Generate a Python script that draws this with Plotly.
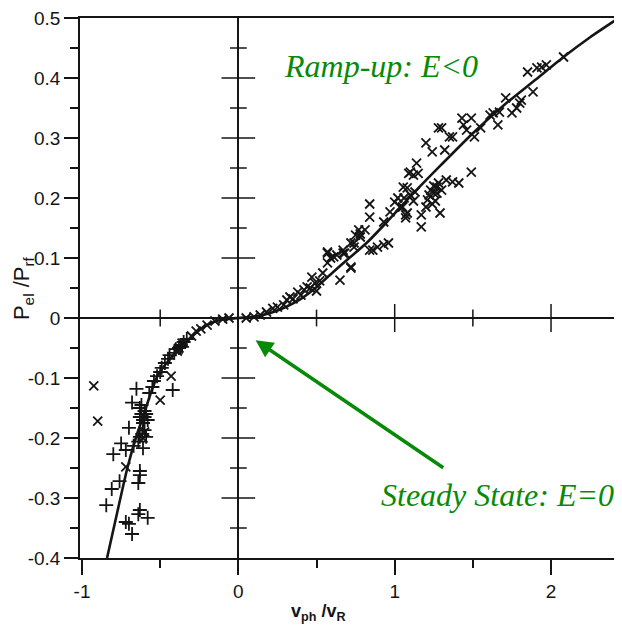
import plotly.graph_objects as go

# ---- data ----
curve_x = [-0.84, -0.78, -0.71, -0.65, -0.61, -0.56, -0.52, -0.45, -0.37, -0.30, -0.24, -0.17, -0.11,
           0.0, 0.10, 0.20, 0.30, 0.40, 0.48, 0.60, 0.70, 0.82, 0.95, 1.12, 1.30, 1.50, 1.70, 1.90, 2.08, 2.25, 2.45]
curve_y = [-0.40, -0.33, -0.25, -0.195, -0.165, -0.125, -0.098, -0.072, -0.050, -0.032, -0.018, -0.008, -0.003,
           0.0, 0.002, 0.008, 0.018, 0.032, 0.047, 0.075, 0.098, 0.125, 0.160, 0.208, 0.256, 0.308, 0.355, 0.397,
           0.435, 0.468, 0.503]

plus_x = [-0.652, -0.68, -0.70, -0.75, -0.80, -0.72, -0.76, -0.81, -0.845, -0.72, -0.70, -0.68, -0.63, -0.64,
          -0.58, -0.63, -0.63, -0.64, -0.61, -0.59, -0.63, -0.67, -0.64, -0.615, -0.60, -0.42,
          -0.63, -0.62, -0.60, -0.61, -0.59, -0.62, -0.60, -0.63, -0.58, -0.61,
          -0.57, -0.55, -0.54, -0.52, -0.50, -0.49, -0.47, -0.45, -0.44, -0.41, -0.40, -0.38, -0.37, -0.36, -0.35, -0.33]
plus_y = [-0.118, -0.141, -0.183, -0.209, -0.227, -0.220, -0.272, -0.285, -0.312, -0.340, -0.343, -0.360, -0.320, -0.327,
          -0.333, -0.255, -0.262, -0.275, -0.217, -0.198, -0.198, -0.213, -0.206, -0.193, -0.187, -0.120,
          -0.150, -0.160, -0.165, -0.170, -0.160, -0.145, -0.155, -0.165, -0.170, -0.175,
          -0.125, -0.115, -0.105, -0.097, -0.090, -0.083, -0.075, -0.068, -0.062, -0.058, -0.052, -0.050, -0.045, -0.048, -0.040, -0.035]

star_x = [-0.925, -0.90, -0.50, -0.43, -0.72, -0.38, -0.39, -0.36, -0.30, -0.27, -0.24, -0.20, -0.15, -0.10, -0.06,
          -0.60, -0.61,
          0.05, 0.10, 0.14, 0.18, 0.22, 0.25, 0.29, 0.31, 0.33, 0.35, 0.38, 0.40, 0.42, 0.44, 0.46, 0.47, 0.49, 0.50,
          0.52, 0.54, 0.57, 0.59, 0.57, 0.57, 0.61, 0.63, 0.65, 0.67, 0.67, 0.68, 0.72, 0.72, 0.72, 0.74, 0.74, 0.75,
          0.77, 0.78, 0.78, 0.81, 0.84, 0.84, 0.84, 0.86, 0.89, 0.93, 0.93, 0.96, 0.97, 1.00, 1.035, 1.05, 1.055,
          1.07, 1.07, 1.08, 1.08, 1.09, 1.10, 1.12, 1.14, 1.15, 1.17, 1.17, 1.20, 1.20, 1.21, 1.23, 1.24, 1.24,
          1.25, 1.27, 1.27, 1.28, 1.29, 1.30, 1.30, 1.32, 1.33, 1.35, 1.37, 1.37, 1.41, 1.43, 1.44, 1.46, 1.49,
          1.49, 1.51, 1.55, 1.61, 1.63, 1.66, 1.67, 1.71, 1.75, 1.78, 1.80, 1.81, 1.885, 1.85, 1.91, 1.94, 1.97, 2.08,
          1.06, 1.10, 1.12, 1.13, 1.02, 1.22, 1.26, 1.28, 1.25]
star_y = [-0.113, -0.172, -0.137, -0.097, -0.248, -0.050, -0.055, -0.042, -0.030, -0.022, -0.018, -0.012, -0.005, -0.002, 0.0,
          -0.190, -0.200,
          0.000, 0.002, 0.005, 0.010, 0.016, 0.018, 0.022, 0.030, 0.035, 0.032, 0.043, 0.038, 0.047, 0.052, 0.050, 0.068, 0.058, 0.045,
          0.062, 0.075, 0.092, 0.100, 0.108, 0.110, 0.102, 0.105, 0.063, 0.108, 0.113, 0.108, 0.083, 0.085, 0.125, 0.118, 0.125, 0.138,
          0.147, 0.135, 0.140, 0.147, 0.168, 0.190, 0.113, 0.113, 0.118, 0.122, 0.160, 0.125, 0.177, 0.193, 0.185, 0.185, 0.218,
          0.167, 0.172, 0.175, 0.217, 0.241, 0.243, 0.238, 0.258, 0.241, 0.152, 0.172, 0.185, 0.292, 0.197, 0.213, 0.190, 0.277,
          0.208, 0.218, 0.208, 0.317, 0.175, 0.213, 0.317, 0.280, 0.230, 0.302, 0.302, 0.227, 0.225, 0.333, 0.322, 0.313, 0.333,
          0.243, 0.302, 0.317, 0.338, 0.342, 0.322, 0.343, 0.367, 0.342, 0.350, 0.358, 0.363, 0.377, 0.410, 0.417, 0.418, 0.422, 0.435,
          0.200, 0.205, 0.195, 0.210, 0.200, 0.205, 0.195, 0.225, 0.220]

x_tickvals = [-1, 0, 1, 2]
x_ticktext = ["-1", "0", "1", "2"]
y_tickvals = [0.5, 0.4, 0.3, 0.2, 0.1, 0.0, -0.1, -0.2, -0.3, -0.4]
y_ticktext = ["0.5", "0.4", "0.3", "0.2", "0.1", "0", "-0.1", "-0.2", "-0.3", "-0.4"]

# ticks on the central cross axes
center_y_major = [-0.3, -0.2, -0.1, 0.1, 0.2, 0.3, 0.4]
center_y_minor = [-0.35, -0.25, -0.15, -0.05, 0.05, 0.15, 0.25, 0.35, 0.45]
center_x_major = [1, 2]
center_x_minor = [-0.5, 0.5, 1.5]

GREEN = "#078a07"
INK = "#151515"
SERIF = "Liberation Serif, Times New Roman, serif"

fig = go.Figure()

# cross-axis tick marks
fig.add_trace(go.Scatter(x=[0] * len(center_y_major), y=center_y_major, mode="markers",
                         marker=dict(symbol="line-ew", size=24, line=dict(width=1.5, color=INK)),
                         hoverinfo="skip", showlegend=False))
fig.add_trace(go.Scatter(x=[0] * len(center_y_minor), y=center_y_minor, mode="markers",
                         marker=dict(symbol="line-ew", size=12, line=dict(width=1.5, color=INK)),
                         hoverinfo="skip", showlegend=False))
fig.add_trace(go.Scatter(x=center_x_major, y=[0] * len(center_x_major), mode="markers",
                         marker=dict(symbol="line-ns", size=20, line=dict(width=1.5, color=INK)),
                         hoverinfo="skip", showlegend=False))
fig.add_trace(go.Scatter(x=center_x_minor, y=[0] * len(center_x_minor), mode="markers",
                         marker=dict(symbol="line-ns", size=12, line=dict(width=1.5, color=INK)),
                         hoverinfo="skip", showlegend=False))

# data points
fig.add_trace(go.Scatter(x=plus_x, y=plus_y, mode="markers",
                         marker=dict(symbol="cross-thin", size=10, line=dict(width=1.8, color=INK)),
                         showlegend=False))
fig.add_trace(go.Scatter(x=star_x, y=star_y, mode="markers",
                         marker=dict(symbol="x-thin", size=9, line=dict(width=1.8, color=INK)),
                         showlegend=False))

# fitted curve
fig.add_trace(go.Scatter(x=curve_x, y=curve_y, mode="lines",
                         line=dict(color=INK, width=2.6, shape="spline", smoothing=0.6),
                         showlegend=False))

# the page adds an 8px body margin, so the figure is 8px smaller and shifted accordingly
fig.update_layout(
    width=614, height=623,
    margin=dict(l=72, r=0, t=10, b=73),
    paper_bgcolor="white", plot_bgcolor="white",
    font=dict(family="Liberation Sans, Arial, sans-serif", color=INK),
    xaxis=dict(range=[-1.013, 2.454], automargin=False, showgrid=False,
               zeroline=True, zerolinecolor=INK, zerolinewidth=1.5,
               showline=True, linecolor=INK, linewidth=1.5, mirror=True,
               tickvals=x_tickvals, ticktext=x_ticktext, ticks="outside", ticklen=15, tickwidth=1.5, tickcolor=INK,
               tickfont=dict(size=19), ticklabelstandoff=0, ticklabeloverflow="allow",
               minor=dict(dtick=0.5, tick0=0, ticks="outside", ticklen=8, tickwidth=1.5, tickcolor=INK)),
    yaxis=dict(range=[-0.4, 0.5], automargin=False, showgrid=False,
               zeroline=True, zerolinecolor=INK, zerolinewidth=1.5,
               showline=True, linecolor=INK, linewidth=1.5, mirror=False,
               tickvals=y_tickvals, ticktext=y_ticktext, ticks="outside", ticklen=14, tickwidth=1.5, tickcolor=INK,
               tickfont=dict(size=19), ticklabeloverflow="allow",
               minor=dict(dtick=0.05, tick0=0, ticks="outside", ticklen=8, tickwidth=1.5, tickcolor=INK)),
)

fig.add_annotation(text="P<sub>el</sub> /P<sub>rf</sub>", textangle=-90, xref="paper", yref="paper",
                   x=-0.105, xanchor="center", y=0.5, showarrow=False, font=dict(size=22, color=INK))
fig.add_annotation(text="<b>v<sub>ph</sub> /v<sub>R</sub></b>", xref="x", yref="paper",
                   x=0.51, y=-0.125, showarrow=False, font=dict(size=18, color=INK))

fig.add_annotation(text="<i>Ramp-up: E&lt;0</i>", xref="x", yref="y", x=0.91, y=0.42, showarrow=False,
                   font=dict(family=SERIF, size=32, color=GREEN))
fig.add_annotation(text="<i>Steady State: E=0</i>", xref="x", yref="y", x=1.66, y=-0.295, showarrow=False,
                   font=dict(family=SERIF, size=32, color=GREEN))
fig.add_annotation(x=0.11, y=-0.037, ax=1.33, ay=-0.253, xref="x", yref="y", axref="x", ayref="y",
                   showarrow=True, arrowhead=2, arrowsize=1.0, arrowwidth=3.5, arrowcolor=GREEN, text=" ")

fig.write_html("out.html")
